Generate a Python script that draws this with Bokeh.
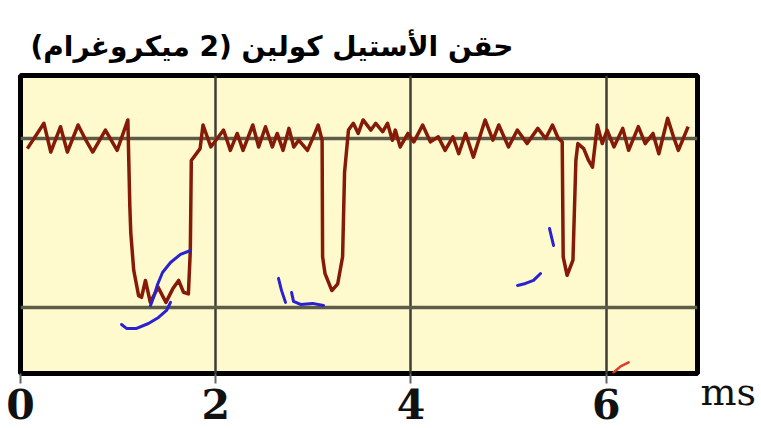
from bokeh.plotting import figure
from bokeh.models import Range1d, Grid, FixedTicker, Label
from bokeh.embed import file_html
from bokeh.resources import INLINE

# ---- texts / ticks ----
title_text = "حقن الأستيل كولين (2 ميكروغرام)\u200f"
x_ticks = [0, 2, 4, 6]
x_unit = "ms"
grid_levels = [-1.0, 0.0]

# ---- recorded trace (time in ms, signal in arbitrary units) ----
time_ms = [0.07, 0.24, 0.31, 0.41, 0.48, 0.59, 0.67, 0.74, 0.87, 0.99, 1.10,
           1.12, 1.13, 1.16, 1.21, 1.24, 1.28, 1.33, 1.41, 1.49, 1.56, 1.62,
           1.67, 1.72, 1.74, 1.75, 1.84, 1.87, 1.95, 2.08, 2.15, 2.22, 2.28,
           2.38, 2.44, 2.51, 2.58, 2.63, 2.69, 2.75, 2.80, 2.85, 2.94, 3.00,
           3.05, 3.09, 3.095, 3.12, 3.19, 3.25, 3.30, 3.32, 3.36, 3.41, 3.46,
           3.51, 3.59, 3.64, 3.71, 3.76, 3.81, 3.84, 3.89, 3.97, 4.03, 4.12,
           4.20, 4.28, 4.35, 4.43, 4.49, 4.56, 4.64, 4.76, 4.84, 4.90, 5.00,
           5.09, 5.19, 5.30, 5.38, 5.45, 5.51, 5.55, 5.56, 5.60, 5.66, 5.69,
           5.71, 5.77, 5.82, 5.86, 5.91, 5.96, 6.01, 6.08, 6.17, 6.23, 6.33,
           6.40, 6.48, 6.54, 6.63, 6.69, 6.74, 6.84]
signal = [-0.06, 0.09, -0.08, 0.07, -0.08, 0.08, -0.01, -0.08, 0.05, -0.07, 0.11,
          -0.40, -0.56, -0.78, -0.93, -0.94, -0.84, -0.97, -0.88, -0.97, -0.89, -0.84,
          -0.91, -0.92, -0.66, -0.13, -0.06, 0.08, -0.05, 0.05, -0.07, 0.03, -0.07,
          0.08, -0.05, 0.07, -0.05, 0.03, -0.07, 0.06, -0.05, -0.01, -0.07, 0.01,
          0.08, -0.01, -0.70, -0.80, -0.90, -0.86, -0.70, -0.20, 0.05, 0.09, 0.03,
          0.11, 0.05, 0.09, 0.04, 0.09, -0.01, 0.05, -0.05, 0.03, -0.02, 0.08,
          -0.02, 0.01, -0.07, 0.01, -0.09, 0.03, -0.11, 0.11, -0.01, 0.08, -0.05,
          0.05, -0.03, 0.06, 0.00, 0.08, 0.00, -0.02, -0.70, -0.81, -0.72, -0.13,
          -0.03, -0.06, -0.13, -0.17, 0.08, -0.03, 0.05, -0.05, 0.06, -0.07, 0.07,
          -0.03, 0.03, -0.09, 0.12, 0.01, -0.07, 0.07]

# ---- hand-drawn pen marks on the picture ----
pen_xs = [[1.742, 1.639, 1.537, 1.455, 1.404, 1.363, 1.332],
          [1.537, 1.496, 1.414, 1.311, 1.189, 1.086, 1.035],
          [2.643, 2.674, 2.715],
          [2.777, 2.797, 2.869, 2.992, 3.104],
          [5.420, 5.461],
          [5.328, 5.256, 5.174, 5.092]]
pen_ys = [[-0.663, -0.686, -0.734, -0.793, -0.864, -0.941, -0.988],
          [-0.970, -1.018, -1.059, -1.095, -1.124, -1.124, -1.101],
          [-0.828, -0.899, -0.970],
          [-0.911, -0.964, -0.982, -0.976, -0.988],
          [-0.533, -0.633],
          [-0.799, -0.840, -0.858, -0.870]]
red_mark_x = [6.076, 6.148, 6.230]
red_mark_y = [-1.385, -1.349, -1.325]

X_END = 6.936
Y_START, Y_END = -1.391, 0.373

p = figure(width=761, height=428, output_backend="svg", toolbar_location=None,
           x_range=Range1d(0, X_END), y_range=Range1d(Y_START, Y_END),
           y_axis_type=None, min_border_left=20, min_border_right=64,
           min_border_top=75, min_border_bottom=55,
           title=title_text)

p.background_fill_color = "#FFFACD"
p.border_fill_color = "white"
p.outline_line_color = "black"
p.outline_line_width = 5

p.title.align = "left"
p.title.offset = 10
p.title.text_font = "DejaVu Sans"
p.title.text_font_style = "bold"
p.title.text_font_size = "28px"
p.title.text_color = "black"
p.title.standoff = 25

# x grid / axis
p.xaxis.ticker = FixedTicker(ticks=x_ticks)
p.xgrid.ticker = FixedTicker(ticks=x_ticks)
p.xgrid.grid_line_color = "#3d3d38"
p.xgrid.grid_line_width = 2.5
p.xaxis.axis_line_color = None
p.xaxis.minor_tick_line_color = None
p.xaxis.major_tick_in = 0
p.xaxis.major_tick_out = 10
p.xaxis.major_tick_line_color = "#666666"
p.xaxis.major_tick_line_width = 2
p.xaxis.major_label_standoff = 5
p.xaxis.major_label_text_font = "DejaVu Serif"
p.xaxis.major_label_text_font_style = "bold"
p.xaxis.major_label_text_font_size = "41px"
p.xaxis.major_label_text_color = "#111111"

ygrid = Grid(dimension=1, ticker=FixedTicker(ticks=grid_levels),
             grid_line_color="#5c5c48", grid_line_width=3.5)
p.add_layout(ygrid)

p.line(time_ms, signal, line_color="#851A08", line_width=3.5, line_join="round")
p.multi_line(pen_xs, pen_ys, line_color="#2A22D0", line_width=3, line_cap="round",
             line_join="round")
p.line(red_mark_x, red_mark_y, line_color="#E03A2A", line_width=2.5, line_cap="round")

unit_label = Label(x=X_END, y=Y_START, x_offset=3, y_offset=-18, text=x_unit,
                   text_font="DejaVu Serif", text_font_size="38px",
                   text_color="#111111", text_align="left",
                   text_baseline="alphabetic")
p.add_layout(unit_label, "right")

open("out.html", "w").write(file_html(p, INLINE))
